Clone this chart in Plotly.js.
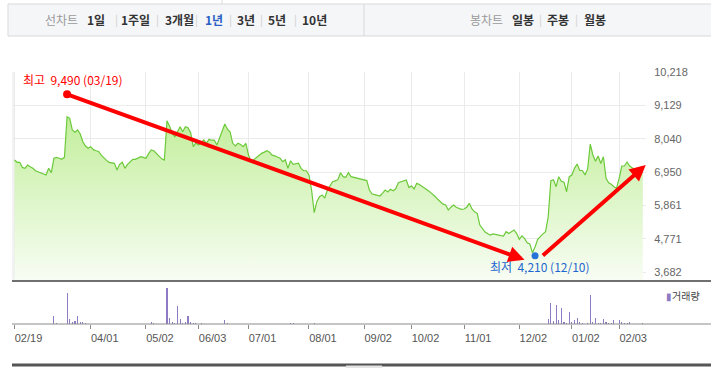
<!DOCTYPE html>
<html><head><meta charset="utf-8">
<script src="https://cdn.plot.ly/plotly-3.0.1.min.js"></script>
<style>html,body{margin:0;padding:0;background:#fff;}#chart{width:711px;height:368px;}</style>
</head><body><div id="chart"></div>
<script>
// ---- data (trading-day index 0 = 2024-02-19) ----
const prices = [
7342,7267,7267,7100,7071,7179,7120,7071,6992,6960,
6908,6885,6850,7071,6927,7398,7430,7400,7365,7430,
8757,8705,8323,8250,8323,8192,7940,7800,7725,7777,
7680,7646,7620,7500,7398,7330,7267,7250,7234,7015,
7200,7267,7071,7200,7267,7365,7365,7420,7450,7430,
7398,7550,7669,7646,7560,7450,7380,7342,8627,8450,
8200,8104,8267,8430,8267,8430,8400,8234,7777,7900,
7832,7900,7996,7888,8019,7990,7996,7832,8050,8267,
8519,8350,8267,7888,7800,7888,7850,7780,7888,7506,
7287,7350,7420,7506,7560,7600,7646,7600,7500,7480,
7450,7400,7287,7350,7071,7319,7200,7220,7240,7071,
6992,6992,6852,6362,5620,5979,6143,6200,6100,6362,
6480,6633,6660,6700,6927,6800,6780,6927,6800,6780,
6760,6740,6711,6711,6670,6362,6231,6210,6200,6166,
6260,6362,6300,6385,6340,6400,6600,6633,6660,6689,
6450,6490,6400,6581,6540,6490,6420,6362,6300,6231,
6150,6058,5980,5900,5872,5708,5800,5872,5800,5760,
5731,5741,5800,5927,5741,5650,5600,5218,5100,4990,
4930,4891,4925,4900,4891,4870,4859,4999,4940,5000,
5055,4940,4751,4860,4780,4640,4600,4313,4500,4751,
4860,4930,4999,5480,6666,6700,6470,6797,6650,6620,
6306,6797,6850,7071,7211,7000,7000,6852,7050,7865,
7506,7300,7473,7230,7450,6744,6600,6550,6470,6417,
6750,7146,7146,7277,7146,7080,7010,6960,6927,6950
];
const volDays = [15,16,20,21,22,23,24,25,26,27,52,53,58,59,60,61,62,63,64,65,66,67,68,69,71,80,81,105,106,114,
  203,204,205,206,207,208,209,210,211,212,213,214,215,216,218,219,220,221,222,223,224,225,226,227,228,230,231,232,233,234,239];
const volumes = [800,130,3070,470,230,330,800,230,170,130,230,130,3600,570,230,130,1800,470,130,230,800,230,130,130,130,400,130,130,130,130,
  470,2130,330,1930,400,1600,230,130,1200,230,400,570,230,130,130,2900,230,570,130,130,470,230,130,130,400,400,230,130,130,230,130];
const tickDays = [0,29,50,70,89,112,133,151,171,192,212,230];
const tickLabels = ['02/19','04/01','05/02','06/03','07/01','08/01','09/02','10/02','11/01','12/02','01/02','02/03'];
const priceTicks = [3682,4771,5861,6950,8040,9129,10218];
const hiDay = 20, hiVal = 9490, hiText = '최고 9,490 (03/19)';
const loDay = 198, loVal = 4210, loText = '최저 4,210 (12/10)';
const lineTabs = ['1일','1주일','3개월','1년','3년','5년','10년'];
const candleTabs = ['일봉','주봉','월봉'];
const selectedTab = '1년';

// ---- layout helpers (pixel -> paper) ----
const L = 13, R = 646, T = 72, B = 324;
const px = x => (x - L) / (R - L);
const py = y => (B - y) / (B - T);
const splitY = py(281);
const wide = s => s.replace(' ', '\u00a0\u00a0');

const days = prices.map((_, i) => i);
const traces = [
  {x: days, y: prices, type: 'scatter', mode: 'lines', xaxis: 'x', yaxis: 'y',
   line: {color: '#6cc93a', width: 1.2}, fill: 'tozeroy',
   fillgradient: {type: 'vertical', start: 3388, stop: 8800,
     colorscale: [[0, 'rgb(248,253,244)'], [1, 'rgb(194,238,155)']]},
   hoverinfo: 'skip'},
  {x: [hiDay], y: [hiVal], type: 'scatter', mode: 'markers', xaxis: 'x', yaxis: 'y',
   marker: {color: '#ff0000', size: 8}, hoverinfo: 'skip'},
  {x: [loDay], y: [loVal], type: 'scatter', mode: 'markers', xaxis: 'x', yaxis: 'y',
   marker: {color: '#2672d8', size: 7}, hoverinfo: 'skip'},
  {x: volDays, y: volumes, type: 'bar', xaxis: 'x2', yaxis: 'y2', width: 0.42,
   marker: {color: '#8d7cc4', line: {width: 0}}, hoverinfo: 'skip'}
];

const annotations = [];
function txt(x, y, text, color, bold, size, anchor) {
  annotations.push({xref: 'paper', yref: 'paper', x: px(x), y: py(y), text: bold ? '<b>' + text + '</b>' : text,
    showarrow: false, xanchor: anchor || 'center', yanchor: 'middle',
    font: {family: 'Noto Sans CJK KR', size: size || 12, color: color}});
}
// tab bar
txt(61, 19, '선차트', '#9a9a9a', false);
const lineX = [96, 135, 179, 214, 246, 277, 314];
lineTabs.forEach((t, i) => {
  txt(lineX[i], 19, t, t === selectedTab ? '#2b5fc4' : '#333333', true);
  if (i < lineTabs.length - 1) txt((lineX[i] + lineX[i + 1]) / 2 + (i === 0 ? 1 : 0), 19, '|', '#d0d0d0', false, 11);
});
txt(486, 19, '봉차트', '#9a9a9a', false);
const candleX = [523, 558, 595];
candleTabs.forEach((t, i) => {
  txt(candleX[i], 19, t, '#333333', true);
  if (i < candleTabs.length - 1) txt((candleX[i] + candleX[i + 1]) / 2, 19, '|', '#d0d0d0', false, 11);
});
// volume legend
annotations.push({xref: 'paper', yref: 'paper', x: px(664), y: py(295), xanchor: 'left', yanchor: 'middle',
  showarrow: false, text: '<span style="color:#8d7cc4">▮</span>거래량',
  font: {family: 'Noto Sans CJK KR', size: 10, color: '#444'}});
// high / low labels
annotations.push({x: hiDay, y: hiVal, xref: 'x', yref: 'y', text: wide(hiText), showarrow: false,
  xanchor: 'left', yanchor: 'middle', xshift: -46, yshift: 15,
  font: {family: 'Noto Sans CJK KR', size: 12, color: '#ff0000'}});
annotations.push({x: loDay, y: loVal, xref: 'x', yref: 'y', text: wide(loText), showarrow: false,
  xanchor: 'left', yanchor: 'middle', xshift: -47, yshift: -11,
  font: {family: 'Noto Sans CJK KR', size: 12, color: '#1f66cf'}});
// arrows
const last = prices.length - 1;
annotations.push({x: loDay - 4, y: loVal - 130, ax: hiDay, ay: hiVal, xref: 'x', yref: 'y', axref: 'x', ayref: 'y',
  text: '', showarrow: true, arrowhead: 2, arrowsize: 0.8, arrowwidth: 4, arrowcolor: '#ff0000', standoff: 0, startstandoff: 0});
annotations.push({x: last + 1.1, y: prices[last] + 230, ax: loDay + 2.4, ay: loVal - 30, xref: 'x', yref: 'y', axref: 'x', ayref: 'y',
  text: '', showarrow: true, arrowhead: 2, arrowsize: 0.8, arrowwidth: 4, arrowcolor: '#ff0000', standoff: 0, startstandoff: 0});

const shapes = [
  {type: 'rect', xref: 'paper', yref: 'paper', x0: px(8), x1: px(712), y0: py(36), y1: py(4),
   fillcolor: '#f5f6f8', line: {color: '#d8d9dc', width: 1}, layer: 'below'},
  {type: 'line', xref: 'paper', yref: 'paper', x0: px(364), x1: px(364), y0: py(36), y1: py(4), line: {color: '#d8d9dc', width: 1}},
  {type: 'line', xref: 'paper', yref: 'paper', x0: px(222), x1: px(222), y0: py(4), y1: py(0), line: {color: '#d8d9dc', width: 1}},
  {type: 'line', xref: 'paper', yref: 'paper', x0: 0, x1: 0, y0: splitY, y1: 1, line: {color: '#e6e6e6', width: 1}},
  {type: 'line', xref: 'paper', yref: 'paper', x0: px(12), x1: px(711), y0: splitY, y1: splitY, line: {color: '#707070', width: 2}},
  {type: 'line', xref: 'paper', yref: 'paper', x0: px(12), x1: px(711), y0: 0, y1: 0, line: {color: '#8a8a8a', width: 1}},
  {type: 'line', xref: 'paper', yref: 'paper', x0: px(12), x1: px(711), y0: py(365), y1: py(365), line: {color: '#555555', width: 3}},
  {type: 'rect', xref: 'paper', yref: 'paper', x0: px(346), x1: px(382), y0: py(368), y1: py(365.5), fillcolor: '#e4e4e4', line: {width: 0}}
];

const layout = {
  width: 711, height: 368, margin: {l: L, r: 711 - R, t: T, b: 368 - B},
  paper_bgcolor: '#ffffff', plot_bgcolor: 'rgba(0,0,0,0)', showlegend: false, bargap: 0,
  font: {family: 'Liberation Sans, Arial, sans-serif', size: 11, color: '#666'},
  xaxis: {domain: [0, 1], anchor: 'y', range: [-0.57, 240.2], tickvals: tickDays, showticklabels: false,
    showgrid: true, gridcolor: '#ebebeb', gridwidth: 1, zeroline: false, showline: false, ticks: '', fixedrange: true},
  yaxis: {domain: [splitY, 1], anchor: 'x', side: 'right', range: [3388, 10219],
    tickvals: priceTicks, ticktext: priceTicks.map(v => v.toLocaleString('en-US')),
    showgrid: true, gridcolor: '#ebebeb', gridwidth: 1, zeroline: false, showline: false,
    ticks: 'outside', ticklen: 5, tickcolor: 'rgba(0,0,0,0)', tickfont: {size: 11, color: '#666'}, fixedrange: true},
  xaxis2: {domain: [0, 1], anchor: 'y2', matches: 'x', range: [-0.57, 240.2], tickvals: tickDays, ticktext: tickLabels,
    showgrid: false, zeroline: false, showline: false, ticks: 'outside', ticklen: 4, tickcolor: '#8a8a8a', tickwidth: 1,
    ticklabelshift: 14, tickfont: {size: 11, color: '#555'}, fixedrange: true},
  yaxis2: {domain: [0, splitY], anchor: 'x2', range: [0, 4300], showgrid: false, zeroline: false,
    showticklabels: false, ticks: '', fixedrange: true},
  annotations: annotations, shapes: shapes
};
Plotly.newPlot('chart', traces, layout, {staticPlot: true, displayModeBar: false});
</script></body></html>
